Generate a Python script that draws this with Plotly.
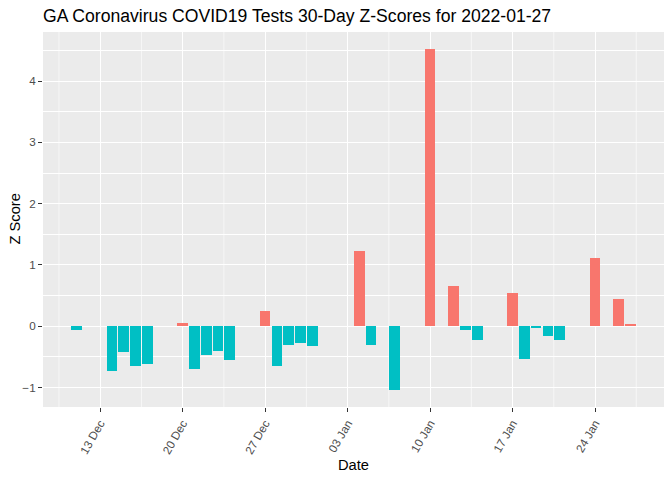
import plotly.graph_objects as go

dates = [
    "2021-12-11", "2021-12-14", "2021-12-15", "2021-12-16", "2021-12-17",
    "2021-12-20", "2021-12-21", "2021-12-22", "2021-12-23", "2021-12-24",
    "2021-12-27", "2021-12-28", "2021-12-29", "2021-12-30", "2021-12-31",
    "2022-01-04", "2022-01-05", "2022-01-07",
    "2022-01-10", "2022-01-12", "2022-01-13", "2022-01-14",
    "2022-01-17", "2022-01-18", "2022-01-19", "2022-01-20", "2022-01-21",
    "2022-01-24", "2022-01-26", "2022-01-27",
]
zscores = [
    -0.06, -0.73, -0.42, -0.65, -0.61,
    0.05, -0.70, -0.47, -0.40, -0.55,
    0.245, -0.65, -0.30, -0.28, -0.32,
    1.23, -0.30, -1.04,
    4.52, 0.65, -0.06, -0.22,
    0.54, -0.53, -0.03, -0.16, -0.22,
    1.11, 0.44, 0.035,
]
tick_dates = ["2021-12-13", "2021-12-20", "2021-12-27", "2022-01-03",
              "2022-01-10", "2022-01-17", "2022-01-24"]
tick_labels = ["13 Dec", "20 Dec", "27 Dec", "03 Jan", "10 Jan", "17 Jan", "24 Jan"]
minor_dates = ["2021-12-09 12:00", "2021-12-16 12:00", "2021-12-23 12:00",
               "2021-12-30 12:00", "2022-01-06 12:00", "2022-01-13 12:00",
               "2022-01-20 12:00", "2022-01-27 12:00"]

RED = "#F8766D"
CYAN = "#00BFC4"
colors = [RED if v > 0 else CYAN for v in zscores]
DAY_MS = 86400000

W, H = 672, 480
L, R, T, B = 43, 8, 32, 73

fig = go.Figure()
fig.add_trace(go.Bar(
    x=dates, y=zscores,
    marker=dict(color=colors, line=dict(width=0)),
    width=[0.9 * DAY_MS] * len(dates),
    showlegend=False,
))

# minor vertical grid lines (ggplot style)
for d in minor_dates:
    fig.add_shape(type="line", xref="x", yref="paper", x0=d, x1=d, y0=0, y1=1,
                  line=dict(color="white", width=0.6), layer="below")

fig.update_layout(
    width=W, height=H,
    margin=dict(l=L, r=R, t=T, b=B),
    paper_bgcolor="white",
    plot_bgcolor="#EBEBEB",
    font=dict(family="Liberation Sans, Arial, sans-serif", color="black"),
    title=dict(text="GA Coronavirus COVID19 Tests 30-Day Z-Scores for 2022-01-27",
               x=L / W, xanchor="left", y=1 - 16 / H, yanchor="middle",
               font=dict(size=17.6, color="black")),
    bargap=0,
    annotations=[
        dict(text="Date", xref="paper", yref="paper", x=0.5, xanchor="center",
             y=-(465 - (H - B)) / (H - T - B), yanchor="middle", showarrow=False,
             font=dict(size=14.7, color="black")),
        dict(text="Z Score", xref="paper", yref="paper",
             x=-(L - 14) / (W - L - R), xanchor="center",
             y=0.5, yanchor="middle", textangle=-90, showarrow=False,
             font=dict(size=14.7, color="black")),
    ],
)
fig.update_xaxes(
    type="date", automargin=False,
    range=["2021-12-08 03:30", "2022-01-29 20:30"],
    tickvals=tick_dates, ticktext=tick_labels,
    tickangle=-60,
    tickfont=dict(size=11.7, color="#4D4D4D"),
    ticks="outside", ticklen=4, tickcolor="#333333", tickwidth=1,
    showgrid=True, gridcolor="white", gridwidth=1.1,
    zeroline=False, showline=False,
)
fig.update_yaxes(
    automargin=False,
    range=[-1.317, 4.80],
    tickvals=[-1, 0, 1, 2, 3, 4],
    tickfont=dict(size=11.7, color="#4D4D4D"),
    ticks="outside", ticklen=4, tickcolor="#333333", tickwidth=1,
    showgrid=True, gridcolor="white", gridwidth=1.1,
    minor=dict(tickvals=[-0.5, 0.5, 1.5, 2.5, 3.5, 4.5], showgrid=True,
               gridcolor="white", gridwidth=0.6, ticks=""),
    zeroline=False, showline=False,
)

fig.write_html("out.html", config={"displayModeBar": False},
               post_script="document.body.style.margin='0px';")
